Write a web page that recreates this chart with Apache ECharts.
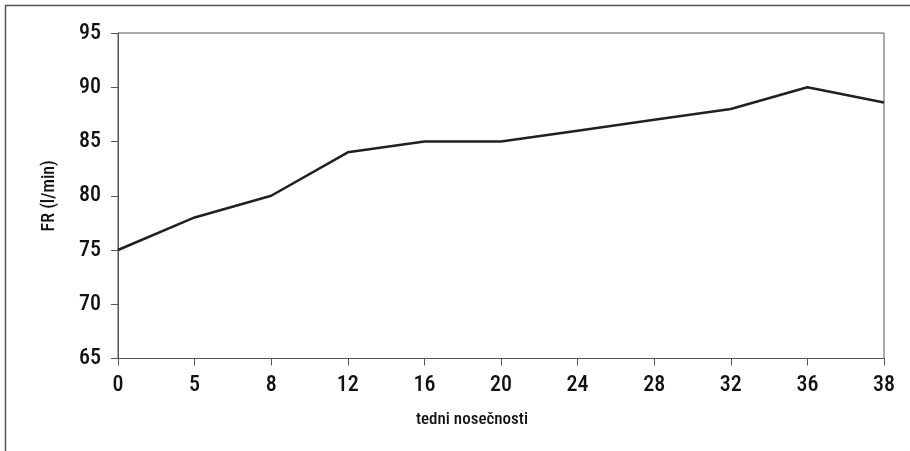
<!DOCTYPE html>
<html><head><meta charset="utf-8">
<script src="https://cdn.jsdelivr.net/npm/echarts@6/dist/echarts.min.js"></script>
<style>html,body{margin:0;padding:0;background:#fff}#c{width:910px;height:451px}</style>
</head><body><div id="c"></div>
<script>
const categories = ['0','5','8','12','16','20','24','28','32','36','38'];
const frValues = [75, 78, 80, 84, 85, 85, 86, 87, 88, 90, 88.6];
const yName = 'FR (l/min)';
const xName = 'tedni nosečnosti';
const FONT = '"Roboto Condensed", "Open Sans Condensed", "Liberation Sans Narrow", sans-serif';
const chart = echarts.init(document.getElementById('c'), null, {renderer:'canvas'});
chart.setOption({
  animation:false,
  backgroundColor:'#fff',
  graphic:[{type:'rect', shape:{x:5.5,y:5.5,width:1000,height:1000}, style:{fill:'none', stroke:'#555', lineWidth:1.5}, silent:true}],
  grid:{left:118, right:26, top:33, bottom:92.5, show:true, borderColor:'#555', borderWidth:1, backgroundColor:'transparent'},
  xAxis:{type:'category', data:categories, boundaryGap:false,
    name:xName, nameLocation:'middle', nameGap:53,
    nameTextStyle:{fontFamily:FONT, fontWeight:500, fontSize:17, color:'#111', padding:[0,58,0,0]},
    axisLine:{lineStyle:{color:'#555', width:1}},
    axisTick:{show:true, length:7, inside:false, alignWithLabel:true, lineStyle:{color:'#555'}},
    axisLabel:{fontFamily:FONT, fontWeight:500, fontSize:22, color:'#111', margin:16},
    splitLine:{show:false}},
  yAxis:{type:'value', min:65, max:95, interval:5,
    name:yName, nameLocation:'middle', nameGap:60,
    nameTextStyle:{fontFamily:FONT, fontWeight:500, fontSize:18, color:'#111'},
    axisLine:{show:true, lineStyle:{color:'#555', width:1}},
    axisTick:{show:true, length:7, lineStyle:{color:'#555'}},
    axisLabel:{fontFamily:FONT, fontWeight:500, fontSize:22, color:'#111', margin:17},
    splitLine:{show:false}},
  series:[{type:'line', data:frValues, symbol:'none', lineStyle:{color:'#231f20', width:2.5}}]
});
</script></body></html>
